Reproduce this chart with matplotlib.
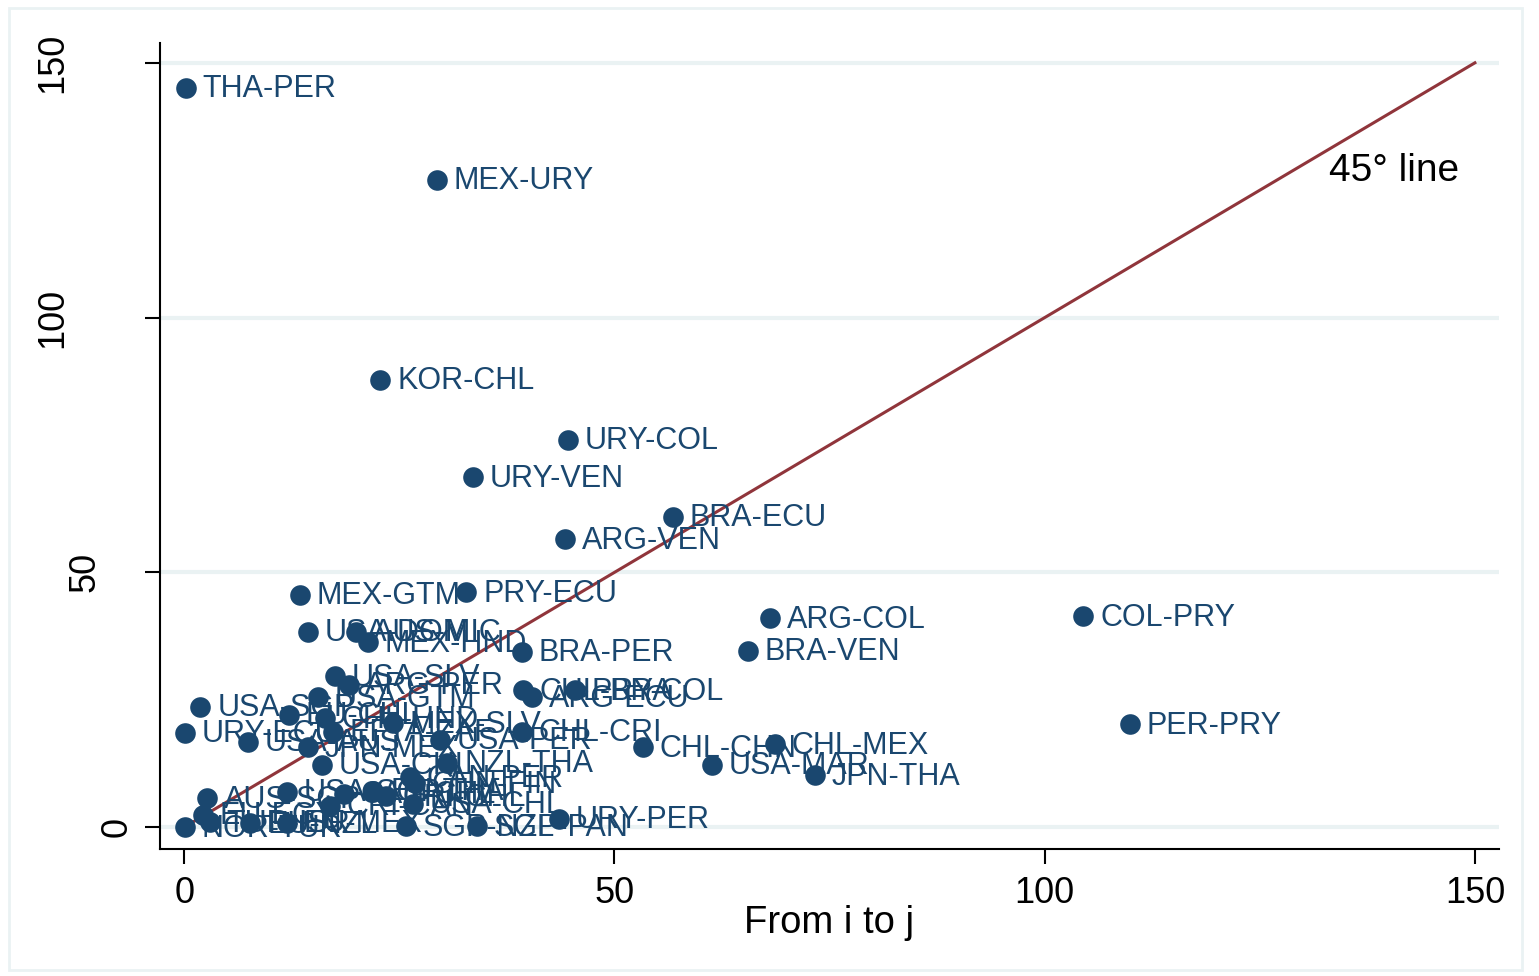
import matplotlib
matplotlib.use("Agg")
import matplotlib.pyplot as plt
from matplotlib.patches import Rectangle

plt.rcParams['font.family'] = ['Liberation Sans', 'DejaVu Sans']

# trade pairs: from i to j (x) vs from j to i (y)
pairs = ['THA-PER', 'MEX-URY', 'KOR-CHL', 'URY-COL', 'URY-VEN', 'BRA-ECU',
         'ARG-VEN', 'MEX-GTM', 'PRY-ECU', 'ARG-COL', 'COL-PRY', 'BRA-PER',
         'BRA-VEN', 'PER-PRY', 'CHL-CHN', 'CHL-MEX', 'USA-MAR', 'JPN-THA',
         'URY-PER', 'USA-DOM', 'AUS-MIC', 'MEX-HND', 'USA-SLV', 'ARG-PER',
         'USA-GTM', 'USA-SGP', 'EU-CHL', 'CHL-HND', 'MEX-SLV', 'CHL-CRI',
         'URY-ECU', 'USA-AUS', 'EFTA-ZAF', 'JPN-MEX', 'USA-PER', 'USA-CHL',
         'NZL-THA', 'CAN-PER', 'CHN-FIN', 'AUS-SGP', 'USA-SGP', 'CAN-CHL',
         'EU-THA', 'CRI-CHL', 'USA-CHL', 'EU-EGY', 'NOR-TUR', 'TUR-ISR',
         'EU-NZL', 'SGP-NZL', 'SGP-PAN', 'CHL-BRA', 'ARG-ECU', 'PRY-COL',
         'CRI-CAN', 'EU-MEX']
from_i = [0.2, 29.4, 22.8, 44.6, 33.6, 56.8,
          44.3, 13.5, 32.8, 68.1, 104.5, 39.3,
          65.5, 109.9, 53.3, 68.7, 61.3, 73.3,
          43.6, 14.4, 20.0, 21.4, 17.5, 19.1,
          15.6, 1.9, 12.2, 16.4, 24.3, 39.3,
          0.1, 7.4, 17.3, 14.4, 29.7, 16.0,
          30.6, 26.2, 26.8, 2.7, 12.0, 18.6,
          22.0, 23.4, 26.6, 2.2, 0.1, 3.0,
          7.7, 25.8, 34.0, 39.4, 40.4, 45.4,
          16.9, 11.9]
to_j = [145.1, 127.0, 87.8, 76.0, 68.7, 60.9,
        56.5, 45.6, 46.1, 41.0, 41.4, 34.4,
        34.6, 20.2, 15.7, 16.3, 12.2, 10.2,
        1.6, 38.3, 38.3, 36.3, 29.6, 27.9,
        25.5, 23.6, 22.0, 21.4, 20.4, 18.7,
        18.5, 16.7, 18.7, 15.7, 17.1, 12.2,
        12.6, 9.8, 8.6, 5.7, 6.9, 6.6,
        7.1, 6.1, 4.6, 2.4, 0.0, 1.0,
        0.8, 0.2, 0.2, 26.9, 25.5, 26.9,
        4.2, 0.9]

y_ticks = [0, 50, 100, 150]
y_tick_labels = ['0', '50', '100', '150']
x_ticks = [0, 50, 100, 150]

navy = '#1a476f'
cranberry = '#90353b'
grid_c = '#eaf2f3'

fig = plt.figure(figsize=(15.39, 9.76), dpi=100)
fig.patches.append(Rectangle((0.006, 0.006), 0.983, 0.986, transform=fig.transFigure,
                             fill=False, ec=grid_c, lw=2))
ax = fig.add_axes([0.104, 0.130, 0.870, 0.826])

for v in y_ticks:
    ax.axhline(v, color=grid_c, lw=3, zorder=0)

ax.plot([0, 150], [0, 150], color=cranberry, lw=2.2, zorder=2)
ax.scatter(from_i, to_j, s=220, color=navy, zorder=3, linewidths=0)
for lab, x, y in zip(pairs, from_i, to_j):
    ax.annotate(lab, (x, y), xytext=(12, -1), textcoords='offset points',
                va='center', ha='left', color=navy, fontsize=22, zorder=4)

ax.text(133.1, 128.8, '45° line', fontsize=28, color='black', ha='left', va='center')

ax.set_xlim(-2.8, 152.8)
ax.set_ylim(-4.3, 153.9)
ax.set_xticks(x_ticks)
ax.set_yticks(y_ticks)
ax.set_yticklabels([])
# y tick labels sit at staggered distances from the axis, as in the original
ytr = ax.get_yaxis_transform()
for v, lab, xa in zip(y_ticks, y_tick_labels, [-0.0320, -0.0560, -0.0800, -0.0800]):
    ax.text(xa, v, lab, transform=ytr, rotation=90, fontsize=26,
            ha='center', va='center', clip_on=False)
ax.tick_params(axis='both', labelsize=26, length=11, width=1.5, direction='out', pad=8)
ax.set_xlabel('From i to j', fontsize=27.5, labelpad=-4)
for s in ['top', 'right']:
    ax.spines[s].set_visible(False)
for s in ['left', 'bottom']:
    ax.spines[s].set_linewidth(1.5)

fig.savefig('out.png', dpi=100)
